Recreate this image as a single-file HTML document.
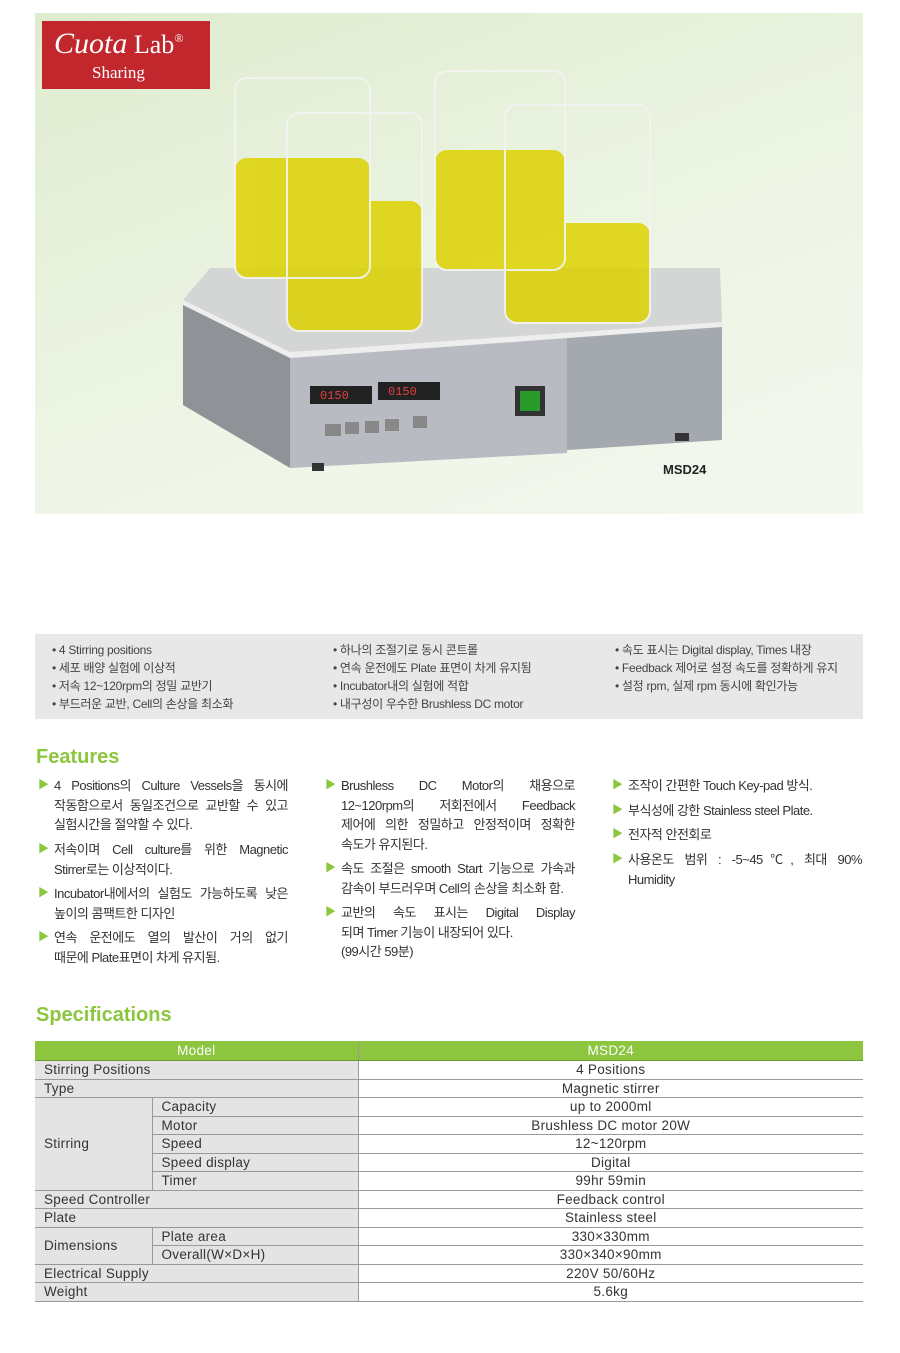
<!DOCTYPE html>
<html><head><meta charset="utf-8"><style>
body{margin:0;background:#fff;width:900px;height:1353px;position:relative;font-family:"Liberation Sans","Noto Sans CJK KR",sans-serif;overflow:hidden}
.a{position:absolute}
.ft{position:absolute;font-size:13px;line-height:19.6px;color:#333;letter-spacing:-0.5px}
.ft i{display:block;font-style:normal;text-align:justify;text-align-last:justify}
.ft b{position:absolute;left:-16px;color:#8cc63f;font-size:11px;font-weight:normal}
.gl{position:absolute;font-size:12px;line-height:18px;color:#444;letter-spacing:-0.3px}
table{position:absolute;left:35px;top:1041px;width:828px;border-collapse:collapse;table-layout:fixed;font-size:13.5px;color:#333;letter-spacing:0.3px}
td{height:17.5px;padding:0 0 0 9px;border-bottom:1.5px solid #999;line-height:17px;white-space:nowrap}
td.g{background:#e4e4e4}
td.v{text-align:center;padding:0;border-left:1px solid #999}
tr.h td{background:#8cc63f;color:#fff;text-align:center;height:19px;padding:0;border-bottom:1.5px solid #6a9a30}
</style></head><body>
<div class="a" style="left:35px;top:13px;width:828px;height:501px;background:linear-gradient(160deg,#dfeccf 0%,#eef5e6 60%,#f3f8ef 100%)"></div>
<svg class="a" style="left:35px;top:13px" width="828" height="501">
<polygon points="148,287 255,339 255,455 148,392" fill="#8f9398"/>
<polygon points="255,339 687,309 687,427 255,455" fill="#a4a9af"/>
<polygon points="255,339 532,320 532,440 255,455" fill="#b8bcc2"/>
<polygon points="148,287 175,255 685,255 687,309 255,339" fill="#d4d5d5"/>
<polygon points="148,287 255,339 687,309 687,314 255,345 148,292" fill="#eee"/>
<rect x="275" y="373" width="62" height="18" fill="#222"/><rect x="343" y="369" width="62" height="18" fill="#222"/>
<text x="285" y="386" fill="#e04040" font-size="12" font-family="Liberation Mono">0150</text>
<text x="353" y="382" fill="#e04040" font-size="12" font-family="Liberation Mono">0150</text>
<rect x="480" y="373" width="30" height="30" fill="#333"/><rect x="485" y="378" width="20" height="20" fill="#2a9a2a"/>
<g fill="#888"><rect x="290" y="411" width="16" height="12"/><rect x="310" y="409" width="14" height="12"/><rect x="330" y="408" width="14" height="12"/><rect x="350" y="406" width="14" height="12"/><rect x="378" y="403" width="14" height="12"/></g>
<rect x="277" y="450" width="12" height="8" fill="#333"/><rect x="640" y="420" width="14" height="8" fill="#333"/>
<g fill="#ddd200" opacity="0.85">
<rect x="200" y="145" width="135" height="120" rx="12"/><rect x="400" y="137" width="130" height="120" rx="12"/>
<rect x="252" y="188" width="135" height="130" rx="12"/><rect x="470" y="210" width="145" height="100" rx="12"/></g>
<g fill="none" stroke="#f4f4f4" stroke-width="2" opacity="0.9">
<rect x="200" y="65" width="135" height="200" rx="12"/><rect x="400" y="58" width="130" height="199" rx="12"/>
<rect x="252" y="100" width="135" height="218" rx="12"/><rect x="470" y="92" width="145" height="218" rx="12"/></g>
<text x="628" y="461" font-size="13" font-weight="bold" fill="#222">MSD24</text>
</svg>
<div class="a" style="left:42px;top:21px;width:168px;height:68px;background:#c1272d;color:#fff;font-family:'Liberation Serif',serif">
<div class="a" style="left:12px;top:6px;font-size:30px;font-style:italic">Cuota<span style="font-style:normal;font-size:26px"> Lab</span><sup style="font-size:12px">®</sup></div>
<div class="a" style="left:50px;top:42px;font-size:17px">Sharing</div></div>
<div class="a" style="left:35px;top:634px;width:828px;height:85px;background:#e8e8e8"></div>
<div class="gl" style="left:52px;top:641px">• 4 Stirring positions<br>• 세포 배양 실험에 이상적<br>• 저속 12~120rpm의 정밀 교반기<br>• 부드러운 교반, Cell의 손상을 최소화</div>
<div class="gl" style="left:333px;top:641px">• 하나의 조절기로 동시 콘트롤<br>• 연속 운전에도 Plate 표면이 차게 유지됨<br>• Incubator내의 실험에 적합<br>• 내구성이 우수한 Brushless DC motor</div>
<div class="gl" style="left:615px;top:641px">• 속도 표시는 Digital display, Times 내장<br>• Feedback 제어로 설정 속도를 정확하게 유지<br>• 설정 rpm, 실제 rpm 동시에 확인가능</div>
<div class="a" style="left:36px;top:746px;font-size:20px;color:#8cc63f;font-weight:bold">Features</div>
<div class="ft" style="left:54px;top:776px;width:234px"><b>▶</b><i>4 Positions의 Culture Vessels을 동시에</i><i>작동함으로서 동일조건으로 교반할 수 있고</i>실험시간을 절약할 수 있다.</div>
<div class="ft" style="left:54px;top:840px;width:234px"><b>▶</b><i>저속이며 Cell culture를 위한 Magnetic</i>Stirrer로는 이상적이다.</div>
<div class="ft" style="left:54px;top:884px;width:234px"><b>▶</b><i>Incubator내에서의 실험도 가능하도록 낮은</i>높이의 콤팩트한 디자인</div>
<div class="ft" style="left:54px;top:928px;width:234px"><b>▶</b><i>연속 운전에도 열의 발산이 거의 없기</i>때문에 Plate표면이 차게 유지됨.</div>
<div class="ft" style="left:341px;top:776px;width:234px"><b>▶</b><i>Brushless DC Motor의 채용으로</i><i>12~120rpm의 저회전에서 Feedback</i><i>제어에 의한 정밀하고 안정적이며 정확한</i>속도가 유지된다.</div>
<div class="ft" style="left:341px;top:859px;width:234px"><b>▶</b><i>속도 조절은 smooth Start 기능으로 가속과</i>감속이 부드러우며 Cell의 손상을 최소화 함.</div>
<div class="ft" style="left:341px;top:903px;width:234px"><b>▶</b><i>교반의 속도 표시는 Digital Display</i>되며 Timer 기능이 내장되어 있다.<br>(99시간 59분)</div>
<div class="ft" style="left:628px;top:776px;width:234px"><b>▶</b>조작이 간편한 Touch Key-pad 방식.</div>
<div class="ft" style="left:628px;top:801px;width:234px"><b>▶</b>부식성에 강한 Stainless steel Plate.</div>
<div class="ft" style="left:628px;top:825px;width:234px"><b>▶</b>전자적 안전회로</div>
<div class="ft" style="left:628px;top:850px;width:234px"><b>▶</b><i>사용온도 범위 : -5~45℃, 최대 90%</i>Humidity</div>
<div class="a" style="left:36px;top:1004px;font-size:20px;color:#8cc63f;font-weight:bold">Specifications</div>
<table>
<colgroup><col style="width:117px"><col style="width:206px"><col style="width:505px"></colgroup>
<tr class="h"><td colspan="2">Model</td><td class="v" style="color:#fff">MSD24</td></tr>
<tr><td class="g" colspan="2">Stirring Positions</td><td class="v">4 Positions</td></tr>
<tr><td class="g" colspan="2">Type</td><td class="v">Magnetic stirrer</td></tr>
<tr><td class="g" rowspan="5">Stirring</td><td class="g" style="border-left:1px solid #999">Capacity</td><td class="v">up to 2000ml</td></tr>
<tr><td class="g" style="border-left:1px solid #999">Motor</td><td class="v">Brushless DC motor 20W</td></tr>
<tr><td class="g" style="border-left:1px solid #999">Speed</td><td class="v">12~120rpm</td></tr>
<tr><td class="g" style="border-left:1px solid #999">Speed display</td><td class="v">Digital</td></tr>
<tr><td class="g" style="border-left:1px solid #999">Timer</td><td class="v">99hr 59min</td></tr>
<tr><td class="g" colspan="2">Speed Controller</td><td class="v">Feedback control</td></tr>
<tr><td class="g" colspan="2">Plate</td><td class="v">Stainless steel</td></tr>
<tr><td class="g" rowspan="2">Dimensions</td><td class="g" style="border-left:1px solid #999">Plate area</td><td class="v">330×330mm</td></tr>
<tr><td class="g" style="border-left:1px solid #999">Overall(W×D×H)</td><td class="v">330×340×90mm</td></tr>
<tr><td class="g" colspan="2">Electrical Supply</td><td class="v">220V 50/60Hz</td></tr>
<tr><td class="g" colspan="2">Weight</td><td class="v">5.6kg</td></tr>
</table>
</body></html>
